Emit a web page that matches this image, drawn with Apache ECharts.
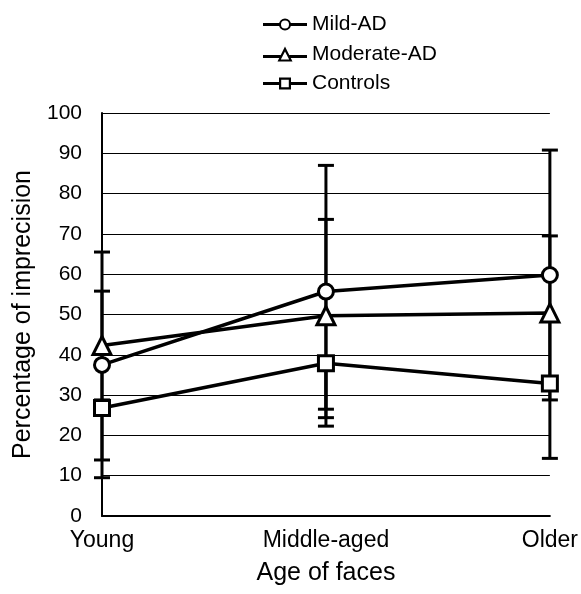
<!DOCTYPE html>
<html>
<head>
<meta charset="utf-8">
<script src="https://cdn.jsdelivr.net/npm/echarts@6/dist/echarts.min.js"></script>
<style>
html,body{margin:0;padding:0;background:#fff;}
#chart{width:581px;height:594px;}
</style>
</head>
<body>
<div id="chart"></div>
<script>
var categories = ['Young', 'Middle-aged', 'Older'];
var seriesNames = ['Mild-AD', 'Moderate-AD', 'Controls'];

var mildAD = [37.5, 55.7, 59.8];
var mildErrUp = [28, 31.3, 31];
var mildErrDown = [28, 31.3, 31];

var moderateAD = [42.3, 49.7, 50.4];
var moderateErrUp = [13.5, 23.9, 19.1];
var moderateErrDown = [13.5, 23.2, 19];

var controls = [26.8, 37.9, 32.9];
var controlsErrUp = [0, 0, 0];
var controlsErrDown = [12.9, 15.6, 18.6];

var FONT = 'Liberation Sans, Arial, Helvetica, sans-serif';

function errData(vals, up, down) {
  return vals.map(function (v, i) { return [i, v - down[i], v + up[i], v]; });
}

function renderErr(params, api) {
  var i = api.value(0);
  var lo = api.value(1), hi = api.value(2), mid = api.value(3);
  var pLo = api.coord([i, lo]);
  var pHi = api.coord([i, hi]);
  var pMid = api.coord([i, mid]);
  var hw = 8;
  var style = { stroke: '#000', lineWidth: 3 };
  var children = [];
  if (hi > mid) {
    children.push({ type: 'line', shape: { x1: pMid[0], y1: pMid[1], x2: pHi[0], y2: pHi[1] }, style: style });
    children.push({ type: 'line', shape: { x1: pHi[0] - hw, y1: pHi[1], x2: pHi[0] + hw, y2: pHi[1] }, style: style });
  }
  if (lo < mid) {
    children.push({ type: 'line', shape: { x1: pMid[0], y1: pMid[1], x2: pLo[0], y2: pLo[1] }, style: style });
    children.push({ type: 'line', shape: { x1: pLo[0] - hw, y1: pLo[1], x2: pLo[0] + hw, y2: pLo[1] }, style: style });
  }
  return { type: 'group', children: children };
}

var bboxPad = ' M0,0 L0.01,0 L0.01,0.01 Z M43.99,14.99 L44,14.99 L44,15 Z';
var iconCircle = 'path://M16,7.5 A6,6 0 1,1 28,7.5 A6,6 0 1,1 16,7.5 Z M18,7.5 A4,4 0 1,0 26,7.5 A4,4 0 1,0 18,7.5 Z' +
  ' M0,6 L16.5,6 L16.5,9 L0,9 Z M27.5,6 L44,6 L44,9 L27.5,9 Z' + bboxPad;
var iconTri = 'path://M22,0 L29.5,15 L14.5,15 Z M22,5 L17.8,13 L26.2,13 Z' +
  ' M0,8.5 L17.5,8.5 L17.5,11.5 L0,11.5 Z M26.5,8.5 L44,8.5 L44,11.5 L26.5,11.5 Z' + bboxPad;
var iconSq = 'path://M16,1.5 L28,1.5 L28,13.5 L16,13.5 Z M18.2,3.7 L18.2,11.3 L25.8,11.3 L25.8,3.7 Z' +
  ' M0,6 L16,6 L16,9 L0,9 Z M28,6 L44,6 L44,9 L28,9 Z' + bboxPad;

function lineSeries(name, data, symbol, size) {
  return {
    name: name, type: 'line', data: data, symbol: symbol, symbolSize: size,
    lineStyle: { color: '#000', width: 3.5 },
    itemStyle: { color: '#fff', borderColor: '#000', borderWidth: 3 },
    z: 5, animation: false
  };
}

function errSeries(name, vals, up, down) {
  return {
    name: name, type: 'custom', data: errData(vals, up, down), renderItem: renderErr,
    z: 3, animation: false, silent: true
  };
}

var chart = echarts.init(document.getElementById('chart'), null, { renderer: 'canvas' });
chart.setOption({
  backgroundColor: '#fff',
  animation: false,
  textStyle: { fontFamily: FONT, color: '#000' },
  legend: {
    orient: 'vertical', left: 263, top: 14, padding: 0,
    itemWidth: 44, itemHeight: 15, itemGap: 8.5,
    selectedMode: false,
    itemStyle: { color: '#000', borderWidth: 0 },
    textStyle: { fontFamily: FONT, fontSize: 21, color: '#000' },
    data: [
      { name: seriesNames[0], icon: iconCircle },
      { name: seriesNames[1], icon: iconTri },
      { name: seriesNames[2], icon: iconSq }
    ]
  },
  grid: { left: 102, right: 30, top: 113, bottom: 78, containLabel: false },
  xAxis: {
    type: 'category', data: categories, boundaryGap: false,
    axisLine: { lineStyle: { color: '#000', width: 2 } },
    axisTick: { show: false },
    axisLabel: { color: '#000', fontSize: 23, fontFamily: FONT, margin: 13 },
    name: 'Age of faces', nameLocation: 'middle', nameGap: 45,
    nameTextStyle: { color: '#000', fontSize: 25, fontFamily: FONT }
  },
  yAxis: {
    type: 'value', min: 0, max: 100, interval: 10,
    axisLine: { show: true, lineStyle: { color: '#000', width: 2 } },
    axisTick: { show: false },
    splitLine: { lineStyle: { color: '#000', width: 1 } },
    axisLabel: { color: '#000', fontSize: 21, fontFamily: FONT, margin: 20, padding: [5, 0, 0, 0] },
    name: 'Percentage of imprecision', nameLocation: 'middle', nameGap: 66,
    nameTextStyle: { color: '#000', fontSize: 25, fontFamily: FONT }
  },
  series: [
    errSeries('Mild-AD err', mildAD, mildErrUp, mildErrDown),
    errSeries('Moderate-AD err', moderateAD, moderateErrUp, moderateErrDown),
    errSeries('Controls err', controls, controlsErrUp, controlsErrDown),
    lineSeries(seriesNames[0], mildAD, 'circle', 15),
    lineSeries(seriesNames[1], moderateAD, 'triangle', 18),
    lineSeries(seriesNames[2], controls, 'rect', 15)
  ]
});
</script>
</body>
</html>
